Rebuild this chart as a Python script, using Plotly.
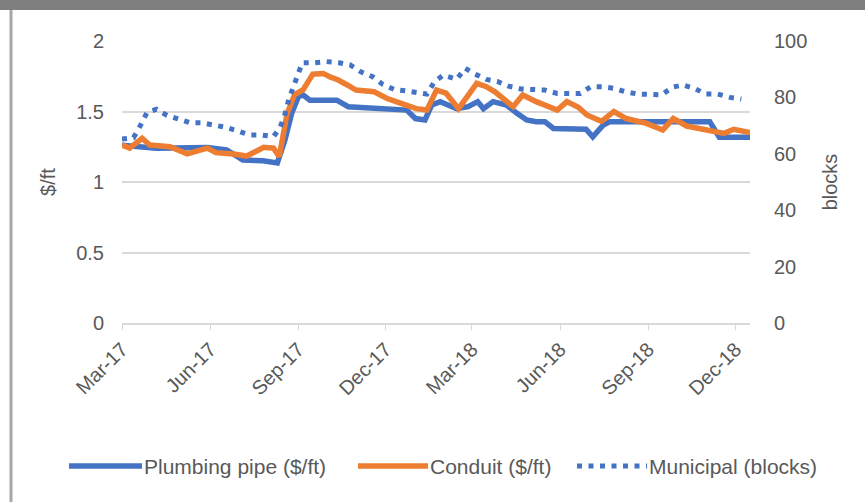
import plotly.graph_objects as go

# Plumbing pipe ($/ft), left axis
plumbing_dates = ["2017-03-01", "2017-03-09", "2017-04-06", "2017-05-29", "2017-06-07", "2017-06-18",
                  "2017-06-27", "2017-07-05", "2017-07-26", "2017-08-10", "2017-08-18", "2017-08-25",
                  "2017-09-01", "2017-09-06", "2017-09-13", "2017-10-11", "2017-10-23", "2017-12-09",
                  "2017-12-23", "2018-01-01", "2018-01-11", "2018-01-18", "2018-01-27", "2018-02-13",
                  "2018-02-25", "2018-03-07", "2018-03-13", "2018-03-23", "2018-04-06", "2018-04-17",
                  "2018-04-27", "2018-05-07", "2018-05-16", "2018-05-25", "2018-06-28", "2018-07-05",
                  "2018-07-16", "2018-07-23", "2018-11-04", "2018-11-14", "2018-12-16"]
plumbing = [1.26, 1.255, 1.24, 1.245, 1.235, 1.227,
            1.19, 1.156, 1.15, 1.135, 1.30, 1.487,
            1.605, 1.617, 1.58, 1.58, 1.534, 1.523,
            1.51, 1.45, 1.44, 1.546, 1.57, 1.52,
            1.534, 1.57, 1.52, 1.57, 1.546, 1.487,
            1.44, 1.428, 1.428, 1.38, 1.374, 1.32,
            1.404, 1.428, 1.428, 1.317, 1.317]

# Conduit ($/ft), left axis
conduit_dates = ["2017-03-01", "2017-03-09", "2017-03-22", "2017-03-30", "2017-04-20", "2017-05-08",
                 "2017-05-29", "2017-06-07", "2017-06-25", "2017-07-09", "2017-07-27", "2017-08-06",
                 "2017-08-12", "2017-08-20", "2017-08-28", "2017-09-06", "2017-09-16", "2017-09-27",
                 "2017-10-04", "2017-10-12", "2017-10-22", "2017-10-31", "2017-11-19", "2017-12-02",
                 "2017-12-17", "2018-01-02", "2018-01-13", "2018-01-23", "2018-02-02", "2018-02-15",
                 "2018-03-06", "2018-03-16", "2018-03-25", "2018-04-13", "2018-04-23", "2018-05-07",
                 "2018-05-29", "2018-06-08", "2018-06-20", "2018-06-29", "2018-07-14", "2018-07-27",
                 "2018-08-09", "2018-08-30", "2018-09-16", "2018-09-27", "2018-10-11", "2018-11-01",
                 "2018-11-19", "2018-11-29", "2018-12-16"]
conduit = [1.262, 1.24, 1.31, 1.262, 1.25, 1.20,
           1.24, 1.208, 1.199, 1.184, 1.246, 1.24,
           1.18, 1.48, 1.62, 1.655, 1.765, 1.77,
           1.745, 1.725, 1.688, 1.652, 1.64, 1.594,
           1.558, 1.52, 1.51, 1.652, 1.63, 1.52,
           1.70, 1.676, 1.64, 1.534, 1.617, 1.57,
           1.51, 1.57, 1.53, 1.475, 1.43, 1.499,
           1.45, 1.416, 1.369, 1.45, 1.397, 1.369,
           1.345, 1.374, 1.35]

# Municipal (blocks), right axis
municipal_dates = ["2017-03-01", "2017-03-13", "2017-03-20", "2017-03-27", "2017-04-06", "2017-04-17",
                   "2017-04-29", "2017-05-11", "2017-05-23", "2017-06-05", "2017-06-17", "2017-06-29",
                   "2017-07-12", "2017-07-24", "2017-08-06", "2017-08-13", "2017-08-18", "2017-08-22",
                   "2017-08-28", "2017-09-05", "2017-09-18", "2017-09-30", "2017-10-13", "2017-10-25",
                   "2017-11-05", "2017-11-17", "2017-11-28", "2017-12-10", "2017-12-22", "2018-01-02",
                   "2018-01-13", "2018-01-21", "2018-01-30", "2018-02-13", "2018-02-22", "2018-03-04",
                   "2018-03-16", "2018-03-28", "2018-04-08", "2018-04-21", "2018-05-03", "2018-05-16",
                   "2018-05-29", "2018-06-09", "2018-06-22", "2018-07-03", "2018-07-15", "2018-07-27",
                   "2018-08-08", "2018-08-21", "2018-09-02", "2018-09-15", "2018-09-26", "2018-10-07",
                   "2018-10-19", "2018-10-31", "2018-11-12", "2018-11-25", "2018-12-07"]
municipal = [65.2, 65.7, 69.9, 74.6, 75.8, 73.6,
             72.3, 71.0, 71.0, 70.2, 69.4, 68.2,
             66.7, 66.7, 66.1, 69.4, 74.1, 79.3,
             85.0, 92.3, 92.3, 92.7, 92.3, 91.5,
             89.1, 87.4, 84.6, 82.8, 82.3, 81.6,
             81.2, 85.6, 87.9, 86.4, 90.3, 88.3,
             86.4, 85.6, 84.0, 83.0, 82.6, 82.6,
             81.4, 81.4, 81.4, 83.8, 83.8, 83.2,
             82.0, 81.2, 80.9, 80.9, 83.6, 84.4,
             83.2, 81.2, 81.2, 80.0, 79.4]

x_range = ["2017-03-01", "2018-12-16"]

W, H = 865, 502
L, R, T, B = 122, 750, 41, 323
grey = "#595959"
grid = "#D9D9D9"
blue = "#4472C4"
orange = "#ED7D31"
dots = "5px,6.5px"
font = "Liberation Sans, Arial, sans-serif"


def px(x):
    return (x - L) / (R - L)


def py(y):
    return (B - y) / (B - T)


fig = go.Figure()
fig.add_trace(go.Scatter(x=plumbing_dates, y=plumbing, name="Plumbing pipe ($/ft)", mode="lines",
                         line=dict(color=blue, width=5.5)))
fig.add_trace(go.Scatter(x=conduit_dates, y=conduit, name="Conduit ($/ft)", mode="lines",
                         line=dict(color=orange, width=5.5)))
fig.add_trace(go.Scatter(x=municipal_dates, y=municipal, name="Municipal (blocks)", mode="lines",
                         yaxis="y2", line=dict(color=blue, width=5, dash=dots)))

# legend drawn by hand, plotly's legend samples are too short
legend_y = 466
legend_items = [
    (69, 142, "Plumbing pipe ($/ft)", dict(color=blue, width=5.5)),
    (358, 428, "Conduit ($/ft)", dict(color=orange, width=5.5)),
    (577, 647, "Municipal (blocks)", dict(color=blue, width=5, dash=dots)),
]
shapes = [
    dict(type="rect", xref="paper", yref="paper", x0=px(0), x1=px(W), y0=py(0), y1=py(10),
         fillcolor="#7F7F7F", line=dict(width=0), layer="above"),
    dict(type="line", xref="paper", yref="paper", x0=px(11), x1=px(11), y0=py(10), y1=py(H),
         line=dict(color="#A6A6A6", width=3)),
]
annotations = []
for x0, x1, label, style in legend_items:
    shapes.append(dict(type="line", xref="paper", yref="paper", x0=px(x0), x1=px(x1),
                       y0=py(legend_y), y1=py(legend_y), line=style))
    annotations.append(dict(xref="paper", yref="paper", x=px(x1), y=py(legend_y), text=label,
                            showarrow=False, xanchor="left", yanchor="middle",
                            font=dict(size=21, color=grey)))

fig.update_layout(
    width=W, height=H,
    margin=dict(l=L, r=W - R, t=T, b=H - B, autoexpand=False),
    paper_bgcolor="white", plot_bgcolor="white",
    font=dict(family=font, color=grey, size=20),
    showlegend=False,
    xaxis=dict(range=x_range, type="date", tick0="2017-03-01", dtick="M3", tickformat="%b-%y",
               tickangle=-45, ticks="outside", ticklen=5, tickcolor=grid, showgrid=False,
               showline=True, linecolor=grid, linewidth=1.5, tickfont=dict(size=20), zeroline=False),
    yaxis=dict(range=[0, 2], dtick=0.5, tickformat="~g", gridcolor=grid, gridwidth=1.5, zeroline=False,
               title=dict(text="$/ft", font=dict(size=20), standoff=15), ticklabelstandoff=17),
    yaxis2=dict(range=[0, 100], dtick=20, overlaying="y", side="right", showgrid=False, zeroline=False,
                title=dict(text="blocks", font=dict(size=20), standoff=16), ticklabelstandoff=23),
    shapes=shapes,
    annotations=annotations,
)

# page body has an 8px default margin, drop it so the figure sits at 0,0
fig.write_html("out.html", config={"displayModeBar": False},
               post_script="document.body.style.margin='0';")
